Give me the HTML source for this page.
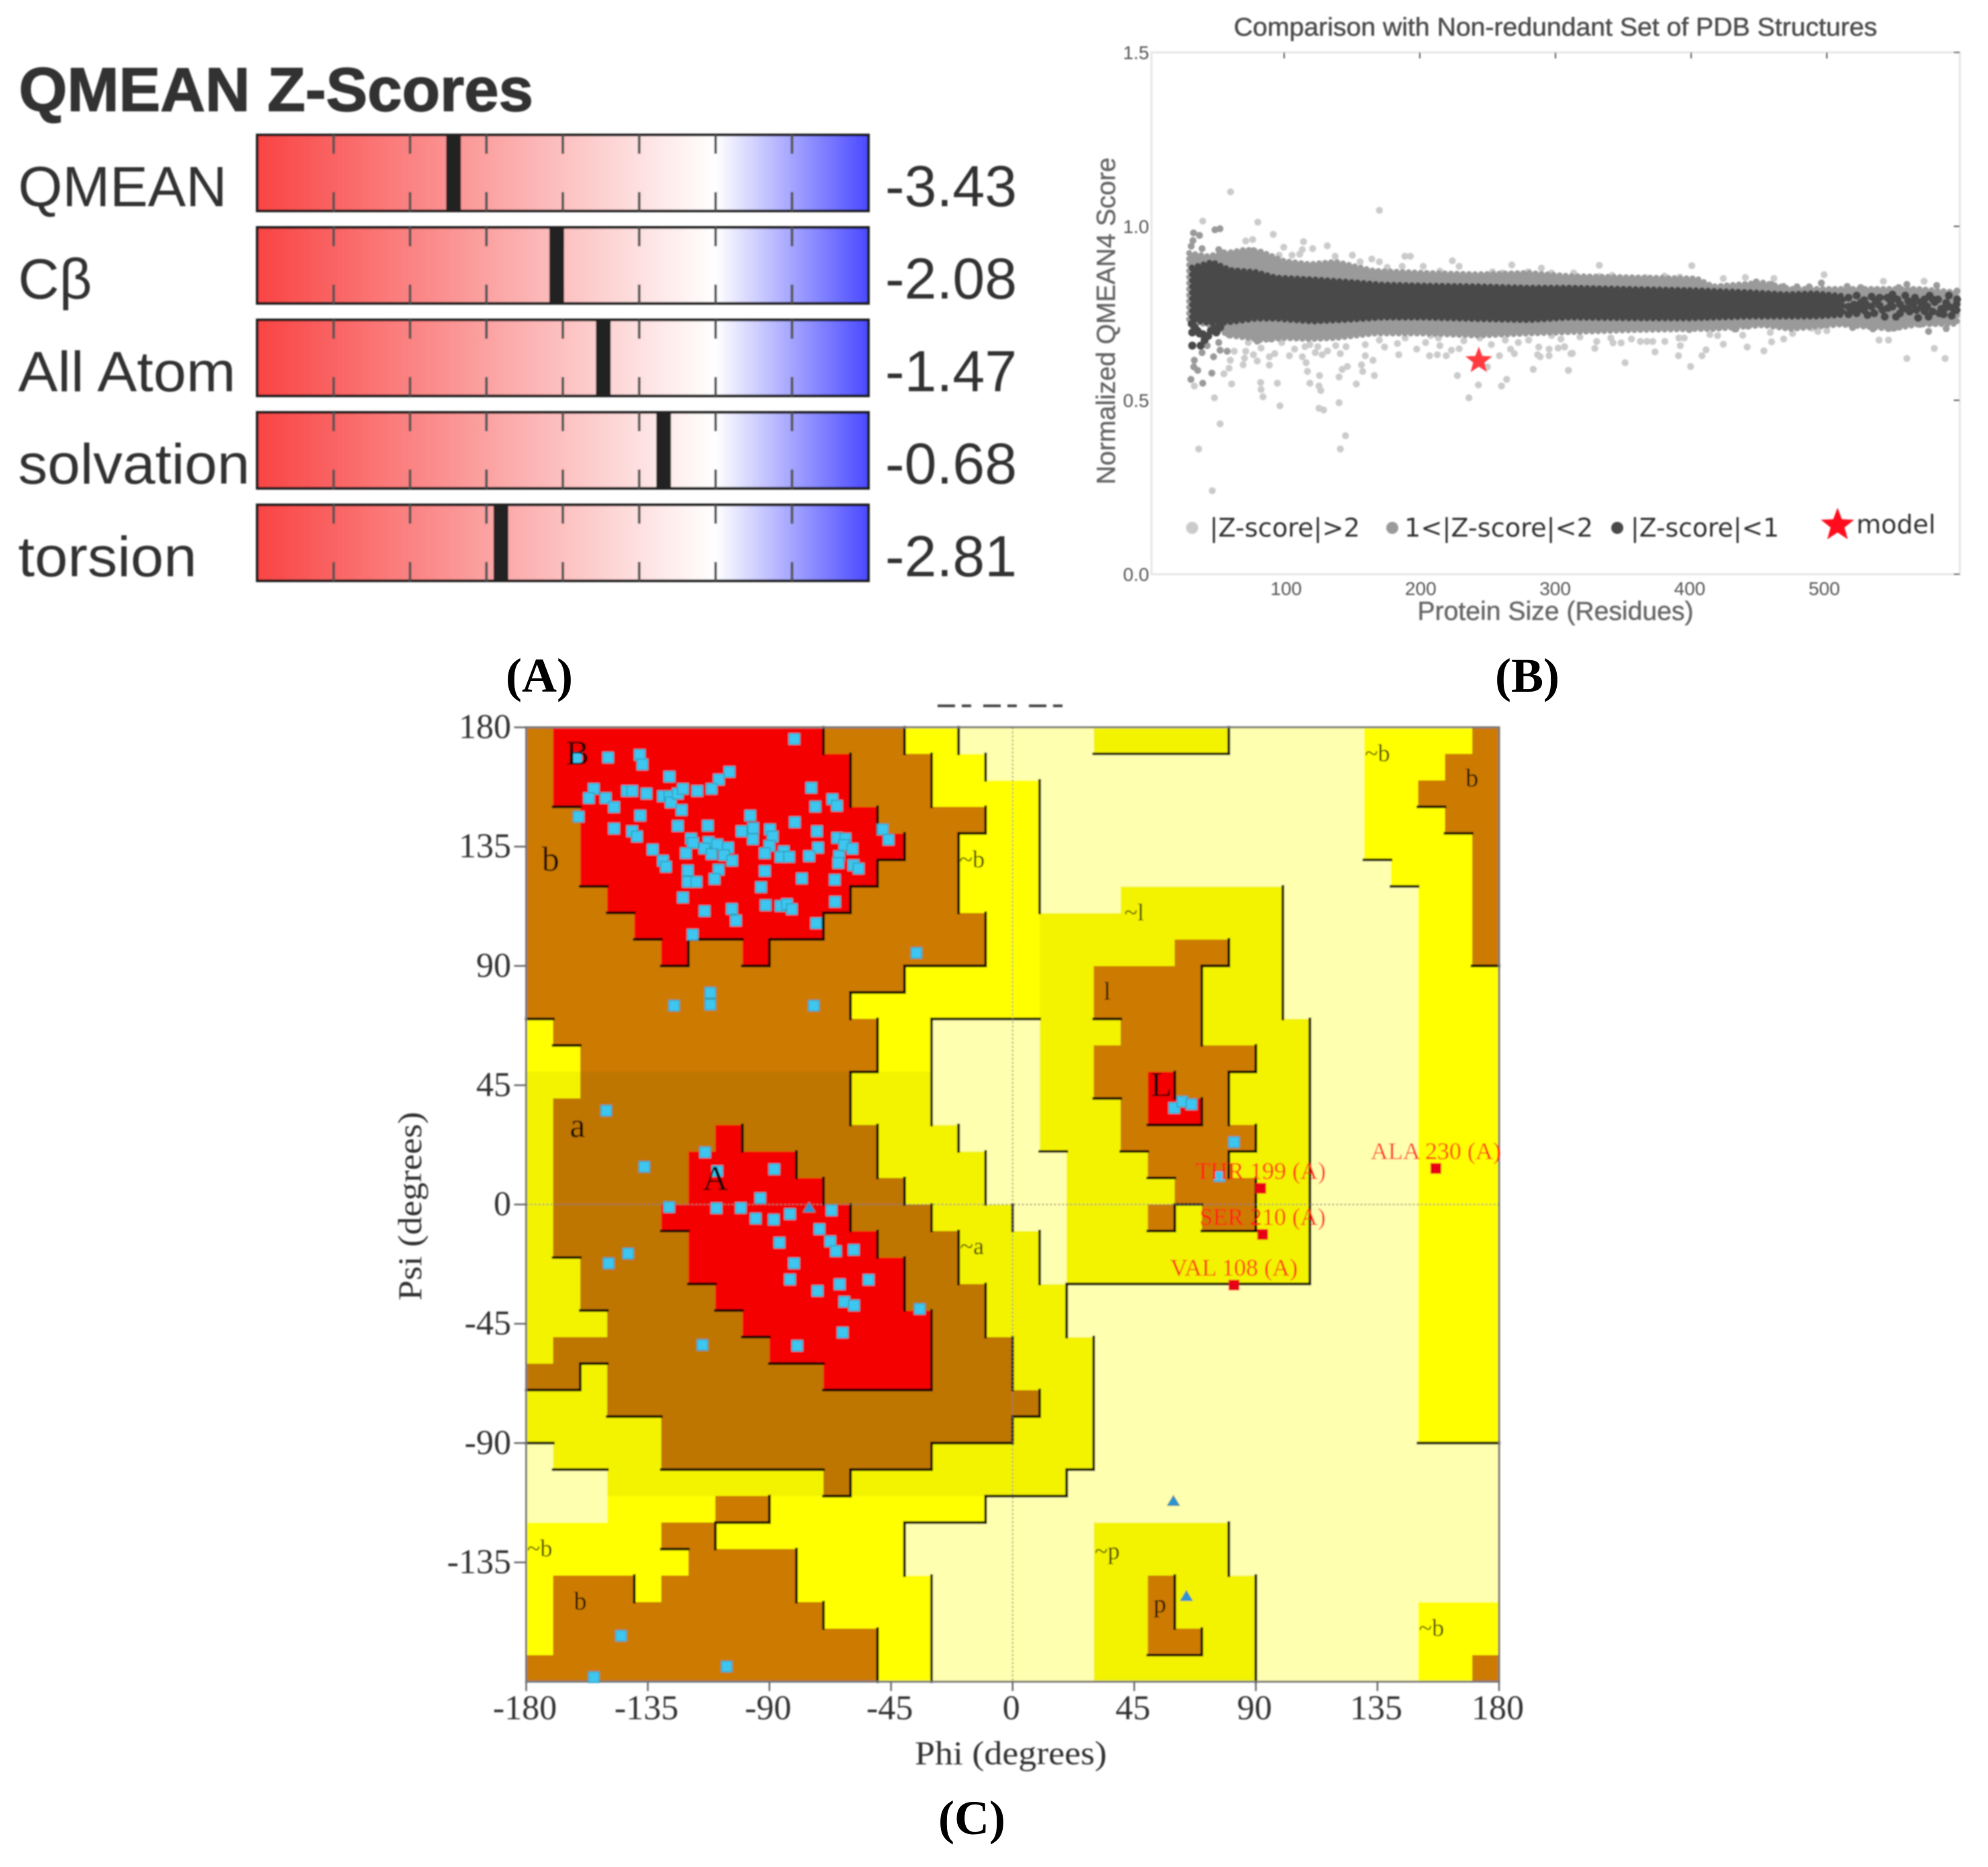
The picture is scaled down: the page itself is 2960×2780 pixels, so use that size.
<!DOCTYPE html>
<html lang="en">
<head>
<meta charset="utf-8">
<title>QMEAN, non-redundant PDB comparison and Ramachandran plot</title>
<style>
html,body{margin:0;padding:0;background:#fff}
svg{display:block}
.sans{font-family:"Liberation Sans",sans-serif}
.serif{font-family:"Liberation Serif",serif}
.dejavu{font-family:"DejaVu Sans",sans-serif}
</style>
</head>
<body>
<svg id="figure" xmlns="http://www.w3.org/2000/svg" width="2960" height="2780" viewBox="0 0 2960 2780">
  <defs>
    <linearGradient id="zGradient" x1="0" x2="1" y1="0" y2="0">
      <stop offset="0" stop-color="#f94444"/>
      <stop offset="0.75" stop-color="#ffffff"/>
      <stop offset="1" stop-color="#4a4aff"/>
    </linearGradient>
    <filter id="soft" filterUnits="userSpaceOnUse" x="0" y="0" width="2960" height="2780">
      <feGaussianBlur stdDeviation="1"/>
    </filter>
  </defs>
  <rect x="0" y="0" width="2960" height="2780" fill="#ffffff"/>

  <g id="panelA" filter="url(#soft)">
    <text class="sans" x="28" y="165" font-size="92" font-weight="700" textLength="766" lengthAdjust="spacingAndGlyphs" fill="#333" stroke="#333" stroke-width="1.5">QMEAN Z-Scores</text>
  </g>
  <text class="serif" x="803" y="1030" font-size="72" font-weight="700" text-anchor="middle" fill="#000">(A)</text>

  <g id="panelB" filter="url(#soft)">
    <text class="sans" x="2316" y="53" font-size="38" text-anchor="middle" textLength="958" lengthAdjust="spacingAndGlyphs" fill="#4d4d4d" stroke="#4d4d4d" stroke-width="0.6">Comparison with Non-redundant Set of PDB Structures</text>
    <text class="sans" x="2316" y="923" font-size="39" text-anchor="middle" textLength="411" lengthAdjust="spacingAndGlyphs" fill="#666" stroke="#666" stroke-width="0.5">Protein Size (Residues)</text>
    <text class="sans" transform="translate(1660 478) rotate(-90)" font-size="39" text-anchor="middle" textLength="487" lengthAdjust="spacingAndGlyphs" fill="#666" stroke="#666" stroke-width="0.5">Normalized QMEAN4 Score</text>
  </g>
  <text class="serif" x="2274" y="1030" font-size="72" font-weight="700" text-anchor="middle" fill="#000">(B)</text>

  <line x1="1396" y1="1051" x2="1590" y2="1051" stroke="#444" stroke-width="4" stroke-dasharray="26 10 14 18" filter="url(#soft)"/>
  <g id="panelC" filter="url(#soft)">
    <text class="serif" x="1505" y="2627" font-size="50" text-anchor="middle" textLength="286" lengthAdjust="spacingAndGlyphs" fill="#333">Phi (degrees)</text>
    <text class="serif" transform="translate(627 1796) rotate(-90)" font-size="50" text-anchor="middle" textLength="281" lengthAdjust="spacingAndGlyphs" fill="#333">Psi (degrees)</text>
  </g>
  <text class="serif" x="1447" y="2731" font-size="72" font-weight="700" text-anchor="middle" fill="#000">(C)</text>
</svg>

<script>
/* ---------- Panel A data ---------- */
const zMetricNames = ["QMEAN", "Cβ", "All Atom", "solvation", "torsion"];
const zScores = [-3.43, -2.08, -1.47, -0.68, -2.81];
const zTickValues = [-5, -4, -3, -2, -1, 0, 1];

/* ---------- Panel B data ---------- */
const sizeTicks = [100, 200, 300, 400, 500];
const scoreTicks = [0.0, 0.5, 1.0, 1.5];
const darkSizes = [32, 40, 47, 60, 79, 94, 121, 147, 172, 204, 242, 280, 310, 360, 400, 444, 470, 491, 512];
const darkUpper = [.882, .89, .898, .875, .869, .853, .848, .841, .833, .83, .828, .824, .824, .82, .817, .811, .805, .808, .80];
const darkLower = [.73, .725, .72, .724, .734, .734, .726, .731, .737, .737, .733, .73, .737, .735, .735, .74, .74, .74, .745];
const midSizes = [30, 43, 60, 72, 83, 100, 119, 138, 166, 204, 242, 280, 310, 359, 404, 416, 453, 473, 510, 548, 567, 596];
const midUpper = [.923, .914, .925, .933, .927, .90, .891, .898, .872, .866, .862, .866, .857, .853, .85, .827, .838, .82, .82, .82, .82, .81];
const midLower = [.72, .72, .686, .68, .673, .679, .676, .679, .692, .692, .686, .692, .696, .702, .705, .705, .716, .705, .718, .705, .718, .72];
const lightPoints = [
[170.2,1.046],[40,1.015],[80.6,1.012],[92,.977],[71.7,.958],[76.8,.962],[99.7,.94],[114.3,.956],[121,.936],[131.8,.944],[113.4,.933],[111.5,.92],[105.8,.917],[96.3,.917],[137.6,.914],[150.3,.917],[156,.898],[164.6,.906],[170.2,.898],[176,.882],[189,.914],[193,.914],[187,.885],[202.5,.885],[224,.901],[229,.885],[214.8,.871],[253.6,.869],[267.8,.889],[289.6,.88],[261,.866],[280,.869],[297,.866],
[60.5,1.099],[47,.24],[73.6,.666],[83,.65],[71.7,.641],[77.4,.631],[70.8,.621],[69.8,.602],[80.2,.613],[63.2,.641],[60.3,.615],[59.4,.592],[55.6,.576],[61.3,.547],[48.6,.507],[52.8,.432],[37,.36],[33.8,.541],[82.7,.551],[83,.531],[84.4,.51],[95,.549],[96.9,.484],[89.1,.601],[89.1,.625],[93.1,.634],[98.2,.666],[103.9,.628],[107.7,.647],[113.4,.625],[116.2,.608],[117.2,.583],[126.1,.571],[119,.549],[125.7,.541],[127,.528],[125.7,.477],[129.1,.472],[140.5,.493],[140.5,.567],[142.8,.589],[146.6,.597],[145.2,.398],[141.4,.36],[153.2,.547],[166.5,.571],[157.9,.583],[157,.602],[159.8,.628],[165.5,.615],[119,.66],[115.3,.654],[124.8,.654],[122.9,.637],[128,.631],[132,.642],[138,.657],[141.4,.634],[145.6,.654],[159.8,.66],[170.2,.673],[174,.653],[184.5,.631],[183.5,.663],[189.2,.679],[197.7,.647],[204.3,.666],[208,.686],[213.8,.679],[207.2,.628],[212.9,.631],[219.5,.628],[214.8,.657],[223.3,.644],[229,.648],[232.4,.671],[227.7,.571],[243.2,.544],[236.2,.507],[260.2,.541],[264,.56],[249.8,.596],[258.7,.628],[252.7,.66],[244.2,.679],[263,.673],[266.9,.647],[269.7,.634],[272.6,.666],[287.7,.653],[286.8,.631],[288.7,.625],[295.3,.647],[295.3,.628],[283.6,.589],[302,.65],[306.7,.653],[309.5,.586],[311.4,.634],[297.2,.686],[280.2,.673],
[332.3,.888],[400.5,.887],[498,.861],[423.7,.85],[440,.853],[541.7,.842],[571.7,.842],[461,.85],[313.4,.866],[332,.856],[341.8,.859],[366.4,.853],[380.3,.857],[391.6,.854],[309.6,.586],[312.4,.635],[306.7,.654],[304,.676],[329,.649],[318,.682],[330.4,.669],[340.8,.679],[342.4,.665],[348.4,.665],[356,.676],[362.6,.669],[367.4,.669],[371.7,.669],[380.6,.669],[391,.679],[394.9,.679],[392,.657],[373.4,.639],[390.7,.628],[408,.628],[411,.645],[399.6,.597],[351.3,.608],[423.7,.661],[419.5,.686],[413.8,.689],[438,.687],[441.3,.653],[453.6,.642],[459.3,.668],[468.2,.676],[458.3,.695],[474.8,.692],[488.7,.707],[493.4,.698],[500,.7],[538.5,.673],[545.5,.673],[579.2,.649],[559,.62],[587.2,.62]
];
const midPoints = [
[33.2,.981],[37.6,.974],[32.8,.959],[31.5,.943],[39.5,.936],[49,.99],[52.7,.993],[51.8,.933],[55.6,.924],[77.4,.93],
[39.5,.637],[43.3,.657],[48,.625],[33.8,.615],[33.4,.596],[36.3,.586],[31.3,.56],[40,.549],[46.7,.578],[52.8,.644],[58,.641],[51.8,.666],[59.4,.688],[80.2,.67],[90.6,.676],
[398.6,.703],[432,.705],[448,.84],[459,.833],[468,.827],[478,.826],[487,.826],[496,.837],[515,.827],[525,.824],[537,.817],[553,.824],[559,.833],[563.5,.817],[581,.83],[596,.814],[571,.811],
[510.4,.724],[515,.721],[519,.709],[529,.718],[534,.705],[545.5,.706],[550,.708],[558,.725],[568.6,.718],[575,.698],[588,.706],[576,.721],[482,.718],[498,.718],[463,.722],[442,.713],[433,.705]
];
const darkPoints = [
[32.3,.695],[32.3,.657],[38.5,.657],[41.4,.673],[37.6,.692],[34,.71],[36,.70],[31.9,.72],[49,.705],[46,.70],[50,.695],[40,.69],[44,.685],[53,.71],
[516,.795],[516,.769],[516,.747],[522,.801],[522,.75],[527.5,.788],[527.5,.759],[533,.798],[533,.769],[539,.795],[539,.772],[544.6,.795],[542.7,.74],[548.4,.804],[548.4,.769],[554,.776],[554,.75],[557.8,.801],[558.8,.763],[563.5,.776],[567.3,.737],[569,.782],[572,.756],[575,.74],[575.8,.801],[579.6,.782],[584.4,.763],[586,.747],[590,.801],[590,.769],[592,.743],[595.7,.776],[595.7,.759],
[520,.775],[525,.78],[530,.745],[535,.75],[545,.765],[551,.74],[560,.785],[566,.76],[572,.79],[578,.755],[582,.79],[588,.78],
[519,.76],[524,.765],[529,.775],[536,.785],[541,.76],[547,.785],[552,.79],[556,.765],[561,.755],[565,.795],[570,.77],[574,.77],[578,.79],[583,.75],[587,.765],[593,.765],[596,.79]
];
const modelPoint = [243.5, 0.6136];

/* ---------- Panel C data ---------- */
const phiTicks = [-180, -135, -90, -45, 0, 45, 90, 135, 180];
const psiTicks = [180, 135, 90, 45, 0, -45, -90, -135];
const regionRows = [
"BRRRRRRRRRRBBBYYWWWWWdddddWWWWWYYYYB",
"BRRRRRRRRRRRBBBYYWWWWWWWWWWWWWWYYYBB",
"BRRRRRRRRRRRBBBYYYYWWWWWWWWWWWWYYBBB",
"BBRRRRRRRRRRRBBBBYYWWWWWWWWWWWWYYYBB",
"BBRRRRRRRRRRRRBBYYYWWWWWWWWWWWWYYYYB",
"BBRRRRRRRRRRRBBBYYYWWWWWWWWWWWWWYYYB",
"BBBRRRRRRRRRBBBBYYYWWWddddddWWWWWYYB",
"BBBBRRRRRRRBBBBBBYYdddddddddWWWWWYYB",
"BBBBBRBBRBBBBBBBBYYdddddBBddWWWWWYYB",
"BBBBBBBBBBBBBBYYYYYddBBBBdddWWWWWYYY",
"BBBBBBBBBBBBYYYYYYYddBBBBdddWWWWWYYY",
"YBBBBBBBBBBBBYYWWWWdddBBBddddWWWWYYY",
"YYBBBBBBBBBBBYYWWWWddBBBBBBddWWWWYYY",
"ddbbbbbbbbbbdddWWWWddBBRBBdddWWWWYYY",
"dbbbbbbbbbbbdddWWWWdddBRRBdddWWWWYYY",
"dbbbbbbRbbbbbdddWWWdddBBBBBddWWWWYYY",
"dbbbbbRRRRbbbddddWWWdddBBBdddWWWWYYY",
"dbbbbbRRRRRbbbdddWWWddddBBBddWWWWYYY",
"dbbbbRRRRRRRbbbdddWWdddBdBBddWWWWYYY",
"dbbbbbRRRRRRRbbbdddWdddddddddWWWWYYY",
"ddbbbbRRRRRRRRbbdddWdddddddddWWWWYYY",
"ddbbbbbRRRRRRRbbbdddWWWWWWWWWWWWWYYY",
"dddbbbbbRRRRRRRbbdddWWWWWWWWWWWWWYYY",
"dbbbbbbbbRRRRRRbbbdddWWWWWWWWWWWWYYY",
"bbdbbbbbbbbRRRRbbbdddWWWWWWWWWWWWYYY",
"dddbbbbbbbbbbbbbbbbddWWWWWWWWWWWWYYY",
"dddddbbbbbbbbbbbbbdddWWWWWWWWWWWWYYY",
"WddddbbbbbbbbbbddddddWWWWWWWWWWWWWWW",
"WWWddddddddbddddddddWWWWWWWWWWWWWWWW",
"WWWYYYYBBYYYYYYYYWWWWWWWWWWWWWWWWWWW",
"YYYYYBBYYYYYYYWWWWWWWdddddWWWWWWWWWW",
"YYYYYYBBBBYYYYWWWWWWWdddddWWWWWWWWWW",
"YBBBYBBBBBYYYYYWWWWWWddBdddWWWWWWWWW",
"YBBBBBBBBBBYYYYWWWWWWddBdddWWWWWWYYY",
"YBBBBBBBBBBBBYYWWWWWWddBBddWWWWWWYYY",
"BBBBBBBBBBBBBYYWWWWWWddddddWWWWWWYYB"
];
const residuePoints = [
[-80.8,175.6],[-161.4,168.6],[-149.7,168.6],[-138,169.6],[-137,166],[-127,161.4],[-104.8,163.2],[-108.7,160.3],[-155,156.8],[-156.8,153.3],[-150.6,153.3],[-147.5,149.9],[-142.7,156],[-140.8,156],[-135.5,155],[-129.4,154],[-127,154],[-126.5,151.7],[-123.9,155],[-122,156.8],[-116.7,156],[-111.4,156.8],[-122.5,148.8],[-74.5,157.2],[-73,150.1],[-66.7,152.9],[-65,150.4],[-80.6,144.2],[-160.6,146.3],[-147.5,141.8],[-140.8,140.8],[-139,138.8],[-137.8,146.7],[-123.9,142.8],[-112.8,142.9],[-97.1,146.7],[-100.3,140.8],[-96,142],[-96.1,137.8],[-89.8,141.5],[-88.8,138.8],[-72.4,140.8],[-64.9,138.3],[-61.9,138],[-48.1,141.5],[-45.9,137.6],[-119,138],[-118.3,136.4],[-112.5,136.7],[-109.3,135.8],[-105.3,134.6],[-114.1,134.3],[-111.4,132.2],[-120.9,132.5],[-106.8,131.8],[-103.8,129.7],[-133.2,133.9],[-129.4,129.7],[-128.3,127.4],[-90,135.3],[-91.7,132.5],[-84.7,133.2],[-85.9,131.1],[-82.7,131.1],[-72,134.6],[-75.3,131.4],[-62.3,135.6],[-59.3,134.2],[-64.2,131.4],[-64.5,128.8],[-58.9,128],[-57,126.7],[-120.2,126],[-108.8,126.3],[-91.7,125.8],[-120.2,121.7],[-117,121.7],[-110.3,122.8],[-78,123],[-65.8,122.5],[-93.1,119.7],[-122,115.8],[-114,110.7],[-103.9,111.5],[-102.4,107.1],[-91.4,112.9],[-85.9,112.6],[-83.5,113.3],[-81.7,111.4],[-65.7,114.2],[-72.7,106.1],[-118.4,101.8],[-35.6,94.9],[-111.9,79.9],[-111.9,75.4],[-125.3,75],[-73.6,75],[-150.4,35.4],[-136.3,14.2],[-113.8,19.7],[-109.3,12.6],[-88.2,13.3],[-93.4,2.4],[-127.1,-1],[-109.6,-1.4],[-100.6,-1.3],[-95.1,-5.3],[-88.4,-5.7],[-82.4,-3.6],[-67,-2.2],[-71.5,-9.3],[-67.5,-13.9],[-65.4,-17.6],[-58.8,-17.1],[-86.3,-14.4],[-80.9,-22.2],[-142.3,-18.5],[-149.5,-22.2],[-82.4,-28.3],[-72.2,-32.6],[-64,-30.1],[-53.3,-28.4],[-62.3,-36.7],[-58.7,-38.1],[-34.4,-39.4],[-62.9,-48.3],[-79.7,-53.3],[-114.8,-53],[-144.9,-162.7],[-105.8,-174.3],[-155,-178.3],[59.8,36.4],[62.8,38.8],[66.2,37.8],[81.9,23.5],[76.5,10.7]
];
const glycinePoints = [[59.5,-111.8],[64.3,-147.7],[-75.3,-1.1]];
const outlierNames = ["ALA 230 (A)", "THR 199 (A)", "SER 210 (A)", "VAL 108 (A)"];
const outlierPhi = [156.6, 91.8, 92.5, 81.9];
const outlierPsi = [13.6, 6.1, -11.3, -30.4];
const regionLabelText = ["B","b","a","A","~b","~a","~b","b","~l","l","L","~b","b","~p","p","~b"];
const regionLabelPhi = [-161,-171,-161,-110,-15,-15,135,170,45,35,55,-175,-160,35,54.5,155];
const regionLabelPsi = [170,130,29.5,9.5,130,-16,170,160.5,110,80,45,-130,-150,-131,-151,-160];

/* ---------- helpers ---------- */
const NS = "http://www.w3.org/2000/svg";
function make(parent, tag, attrs, text) {
  const el = document.createElementNS(NS, tag);
  for (const k in attrs) el.setAttribute(k, attrs[k]);
  if (text !== undefined) el.textContent = text;
  parent.appendChild(el);
  return el;
}

/* ---------- Panel A ---------- */
(function () {
  const root = document.getElementById("panelA");
  const barLeft = 383, barRight = 1293, barHeight = 113, firstTop = 201, rowStep = 137.7;
  const labelLengths = { "QMEAN": 311, "Cβ": 110, "All Atom": 324, "solvation": 345, "torsion": 266 };
  const zx = z => barLeft + (z + 6) / 8 * (barRight - barLeft);
  zMetricNames.forEach((name, i) => {
    const top = firstTop + i * rowStep;
    const label = make(root, "text", { x: 27, y: top + 106, "font-size": 84, fill: "#333", class: "sans", textLength: labelLengths[name], lengthAdjust: "spacingAndGlyphs" }, name);
    
    
    const bar = make(root, "rect", { x: barLeft, y: top, width: barRight - barLeft, height: barHeight, fill: "url(#zGradient)", stroke: "#1c1c1c", "stroke-width": 4 });
    
    
    zTickValues.forEach(t => {
      const upper = make(root, "line", { x1: zx(t), x2: zx(t), y1: top, y2: top + 28, stroke: "#555", "stroke-width": 4 });
      
      
      const lower = make(root, "line", { x1: zx(t), x2: zx(t), y1: top + barHeight - 28, y2: top + barHeight, stroke: "#555", "stroke-width": 4 });
      
      
    });
    const marker = make(root, "rect", { x: zx(zScores[i]) - 11, y: top, width: 22, height: barHeight, fill: "#222" });
    
    
    const value = make(root, "text", { x: 1318, y: top + 106, "font-size": 86, fill: "#333", class: "sans" }, zScores[i].toFixed(2));
    
    
  });
})();

/* ---------- Panel B ---------- */
(function () {
  const root = document.getElementById("panelB");
  const left = 1714.5, right = 2918, top = 78, bottom = 855;
  const sx = v => 1912 + (v - 100) * 2.02;
  const labelX = v => 1915 + (v - 100) * 2.003;
  const sy = v => bottom - v / 1.5 * (bottom - top);

  const frame = make(root, "rect", { x: left, y: top, width: right - left, height: bottom - top, fill: "none", stroke: "#e6e6e6", "stroke-width": 3 });
  
  

  sizeTicks.forEach(v => {
    const t1 = make(root, "line", { x1: sx(v), x2: sx(v), y1: top, y2: top + 9, stroke: "#555", "stroke-width": 2 });
    
    
    const lab = make(root, "text", { x: labelX(v), y: 886, "font-size": 28, "text-anchor": "middle", fill: "#555", class: "sans" }, String(v));
    
    
  });
  scoreTicks.forEach(v => {
    const t2 = make(root, "line", { x1: right - 9, x2: right, y1: sy(v), y2: sy(v), stroke: "#555", "stroke-width": 2 });
    
    
    const lab = make(root, "text", { x: 1711, y: sy(v) + 10, "font-size": 28, "text-anchor": "end", fill: "#555", class: "sans" }, v.toFixed(1));
    
    
  });

  lightPoints.forEach(p => {
    const c = make(root, "circle", { cx: sx(p[0]), cy: sy(p[1]), r: 5.2, fill: "#cbcbcb" });
    
    
  });

  function band(sizes, upper, lower, color) {
    const pts = [];
    sizes.forEach((s, i) => pts.push(sx(s) + "," + sy(upper[i])));
    for (let i = sizes.length - 1; i >= 0; i--) pts.push(sx(sizes[i]) + "," + sy(lower[i]));
    return make(root, "polygon", { points: pts.join(" "), fill: color, stroke: color, "stroke-width": 9, "stroke-linecap": "round", "stroke-dasharray": "0 9" });
  }
  const midBand = band(midSizes, midUpper, midLower, "#9a9a9a");
  
  
  midPoints.forEach(p => {
    const c = make(root, "circle", { cx: sx(p[0]), cy: sy(p[1]), r: 5.2, fill: "#9a9a9a" });
    
    
  });
  const darkBand = band(darkSizes, darkUpper, darkLower, "#4a4a4a");
  
  
  darkPoints.forEach(p => {
    const c = make(root, "circle", { cx: sx(p[0]), cy: sy(p[1]), r: 6, fill: "#4a4a4a" });
    
    
  });

  function starPoints(cx, cy, R) {
    const pts = [];
    for (let k = 0; k < 10; k++) {
      const r = k % 2 ? R * 0.42 : R;
      const a = -Math.PI / 2 + k * Math.PI / 5;
      pts.push((cx + r * Math.cos(a)) + "," + (cy + r * Math.sin(a)));
    }
    return pts.join(" ");
  }
  const modelStar = make(root, "polygon", { points: starPoints(sx(modelPoint[0]), sy(modelPoint[1]), 21), fill: "#ff3a40" });
  
  

  const d1 = make(root, "circle", { cx: 1775, cy: 786, r: 9, fill: "#cbcbcb" });
  
  
  const t1 = make(root, "text", { x: 1801, y: 799, "font-size": 38, textLength: 224, lengthAdjust: "spacingAndGlyphs", fill: "#333", class: "dejavu" }, "|Z-score|>2");
  
  
  const d2 = make(root, "circle", { cx: 2073, cy: 786, r: 9, fill: "#9a9a9a" });
  
  
  const t2 = make(root, "text", { x: 2091, y: 799, "font-size": 38, textLength: 281, lengthAdjust: "spacingAndGlyphs", fill: "#333", class: "dejavu" }, "1<|Z-score|<2");
  
  
  const d3 = make(root, "circle", { cx: 2408, cy: 786, r: 9, fill: "#4a4a4a" });
  
  
  const t3 = make(root, "text", { x: 2428, y: 799, "font-size": 38, textLength: 221, lengthAdjust: "spacingAndGlyphs", fill: "#333", class: "dejavu" }, "|Z-score|<1");
  
  
  const s4 = make(root, "polygon", { points: starPoints(2736, 782, 26), fill: "#ff0a1e" });
  
  
  const t4 = make(root, "text", { x: 2764, y: 794, "font-size": 38, textLength: 118, lengthAdjust: "spacingAndGlyphs", fill: "#333", class: "dejavu" }, "model");
  
  
})();

/* ---------- Panel C ---------- */
(function () {
  const root = document.getElementById("panelC");
  const left = 783.5, right = 2232, top = 1083, bottom = 2504;
  const px = phi => left + (phi + 180) / 360 * (right - left);
  const py = psi => top + (180 - psi) / 360 * (bottom - top);
  const fills = { R: "#f40000", B: "#cc7a00", b: "#bf7600", Y: "#ffff00", d: "#f3f300", W: "#ffffb0" };
  const rank = { R: 3, B: 2, b: 2, Y: 1, d: 1, W: 0 };
  const cw = (right - left) / 36, ch = (bottom - top) / 36;

  regionRows.forEach((row, r) => {
    for (let c = 0; c < 36; c++) {
      const cell = make(root, "rect", { x: left + c * cw, y: top + r * ch, width: cw + 0.6, height: ch + 0.6, fill: fills[row[c]], "shape-rendering": "crispEdges" });
      
      
    }
  });

  let d = "";
  regionRows.forEach((row, r) => {
    for (let c = 0; c < 36; c++) {
      if (c < 35 && rank[row[c]] > rank[row[c + 1]]) {
        const x = left + (c + 1) * cw;
        d += "M" + x + " " + (top + r * ch) + "V" + (top + (r + 1) * ch);
      }
      if (r < 35 && rank[row[c]] > rank[regionRows[r + 1][c]]) {
        const y = top + (r + 1) * ch;
        d += "M" + (left + c * cw) + " " + y + "H" + (left + (c + 1) * cw);
      }
    }
  });
  const edges = make(root, "path", { d: d, fill: "none", stroke: "#000", "stroke-width": 4, "stroke-linecap": "square" });
  
  

  const vZero = make(root, "line", { x1: px(0), x2: px(0), y1: top, y2: bottom, stroke: "#777", "stroke-width": 1.5, "stroke-dasharray": "3 3" });
  
  
  const hZero = make(root, "line", { x1: left, x2: right, y1: py(0), y2: py(0), stroke: "#777", "stroke-width": 1.5, "stroke-dasharray": "3 3" });
  
  

  const frame = make(root, "rect", { x: left, y: top, width: right - left, height: bottom - top, fill: "none", stroke: "#777", "stroke-width": 3 });
  
  

  phiTicks.forEach(v => {
    const t = make(root, "line", { x1: px(v), x2: px(v), y1: bottom, y2: bottom + 14, stroke: "#666", "stroke-width": 2.5 });
    
    
    const lab = make(root, "text", { x: px(v) - 2, y: 2560, "font-size": 52, "text-anchor": "middle", fill: "#333", class: "serif" }, String(v));
    
    
  });
  psiTicks.forEach(v => {
    const t = make(root, "line", { x1: left - 18, x2: left, y1: py(v), y2: py(v), stroke: "#666", "stroke-width": 2.5 });
    
    
    const lab = make(root, "text", { x: 761, y: py(v) + 16, "font-size": 52, "text-anchor": "end", fill: "#333", class: "serif" }, String(v));
    
    
  });

  residuePoints.forEach(p => {
    const s = make(root, "rect", { x: px(p[0]) - 8, y: py(p[1]) - 8, width: 16, height: 16, fill: "#3cc6f0", stroke: "#2e9cb8", "stroke-width": 1.5 });
    
    
  });
  glycinePoints.forEach(p => {
    const x = px(p[0]), y = py(p[1]);
    const g = make(root, "polygon", { points: (x - 9) + "," + (y + 7) + " " + (x + 9) + "," + (y + 7) + " " + x + "," + (y - 8), fill: "#2a94d6", stroke: "#3a7f80", "stroke-width": 1 });
    
    
  });
  regionLabelText.forEach((txt, i) => {
    const big = i < 4 || txt === "L";
    const tilde = txt[0] === "~";
    const lab = make(root, "text", {
      x: px(regionLabelPhi[i]), y: py(regionLabelPsi[i]) + (big ? 16 : 11),
      "font-size": big ? 52 : (tilde ? 36 : 38),
      "text-anchor": "middle", fill: tilde ? "#333300" : "#000", class: "serif"
    }, txt);
    
    
  });
  outlierNames.forEach((name, i) => {
    const x = px(outlierPhi[i]), y = py(outlierPsi[i]);
    const s = make(root, "rect", { x: x - 8, y: y - 8, width: 16, height: 16, fill: "#e80018" });
    
    
    const lab = make(root, "text", { x: x, y: y - 14, "font-size": 36, "text-anchor": "middle", fill: "#ff1414", class: "serif" }, name);
    
    
  });
})();
</script>
</body>
</html>
